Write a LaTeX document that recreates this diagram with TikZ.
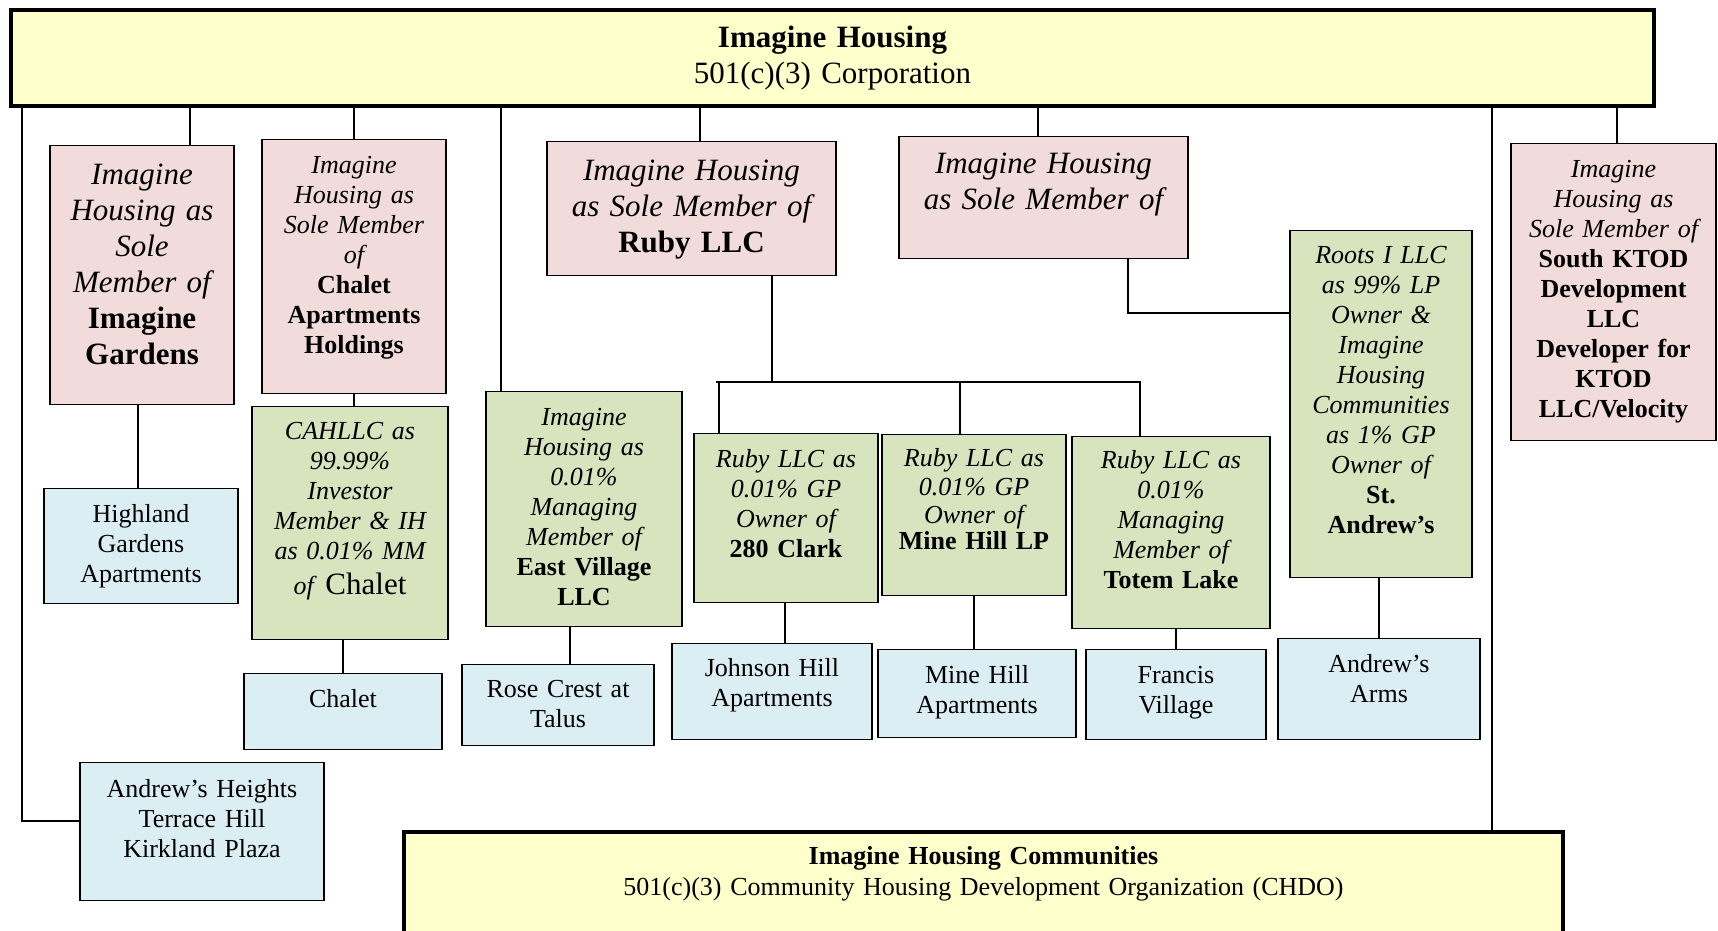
\documentclass[tikz,border=0pt]{standalone}
\usepackage{fontspec}
\setmainfont{Liberation Serif}
\definecolor{corpfill}{HTML}{FFFFCC}
\definecolor{pinkfill}{HTML}{F2DCDB}
\definecolor{greenfill}{HTML}{D7E4BD}
\definecolor{bluefill}{HTML}{DBEEF4}
\tikzset{
  orgbox/.style={draw, line width=1.3pt, anchor=north, inner sep=0pt, align=center,
    font=\fontsize{26}{30}\selectfont},
  pinkbox/.style={orgbox, fill=pinkfill},
  greenbox/.style={orgbox, fill=greenfill},
  bluebox/.style={orgbox, fill=bluefill},
  corpbox/.style={orgbox, fill=corpfill, line width=4.5pt},
  big/.style={font=\fontsize{31}{36}\selectfont},
  link/.style={line width=1.2pt}
}
\begin{document}
\begin{tikzpicture}[x=1pt,y=-1pt]
      \clip (0,0) rectangle (1718,931);
      \node[corpbox, big, text width=1643pt, text height=37pt, text depth=59pt] (ih) at (832.5,8)
        {\textbf{Imagine Housing}\\ 501(c)(3) Corporation};
      \node[pinkbox, big, text width=184pt, text height=39pt, text depth=220pt] (gardens) at (142,145)
        {{\itshape Imagine\\ Housing as\\ Sole\\ Member of}\\ {\bfseries Imagine\\ Gardens}};
      \node[pinkbox, text width=184pt, text height=34pt, text depth=220pt] (chaletsm) at (354,139)
        {{\itshape Imagine\\ Housing as\\ Sole Member\\ of}\\ {\bfseries Chalet\\ Apartments\\ Holdings}};
      \node[greenbox, text width=196pt, text height=33pt, text depth=200pt] (cahllc) at (350,406)
        {{\itshape CAHLLC as\\ 99.99\%\\ Investor\\ Member \& IH\\ as 0.01\% MM}\\[5pt] \textit{of} {\fontsize{31}{36}\selectfont Chalet}};
      \node[bluebox, text width=198pt, text height=34pt, text depth=42pt] (chalet) at (343,673) {Chalet};
      \node[bluebox, text width=194pt, text height=34pt, text depth=81pt] (highland) at (141,488)
        {Highland\\ Gardens\\ Apartments};
      \node[bluebox, text width=244pt, text height=35pt, text depth=103pt] (heights) at (202,762)
        {Andrew’s Heights\\ Terrace Hill\\ Kirkland Plaza};
      \node[greenbox, text width=196pt, text height=34pt, text depth=201pt] (eastvillage) at (584,391)
        {{\itshape Imagine\\ Housing as\\ 0.01\%\\ Managing\\ Member of}\\ {\bfseries East Village\\ LLC}};
      \node[bluebox, text width=192pt, text height=33pt, text depth=48pt] (rosecrest) at (558,664)
        {Rose Crest at\\ Talus};
      \node[pinkbox, big, text width=289pt, text height=39pt, text depth=95pt] (ruby) at (691.5,141)
        {{\itshape Imagine Housing\\ as Sole Member of}\\ \textbf{Ruby LLC}};
      \node[greenbox, text width=184pt, text height=34pt, text depth=135pt] (clark) at (786,433)
        {{\itshape Ruby LLC as\\ 0.01\% GP\\ Owner of}\\ \textbf{280 Clark}};
      \node[bluebox, text width=200pt, text height=33pt, text depth=63pt] (johnson) at (772,643)
        {Johnson Hill\\ Apartments};
      \node[greenbox, font=\fontsize{26}{28.5}\selectfont, text width=184pt, text height=32pt, text depth=129pt] (minehilllp) at (974,434)
        {{\itshape Ruby LLC as\\ 0.01\% GP\\ Owner of}\\[-3pt] \textbf{Mine Hill LP}};
      \node[bluebox, text width=198pt, text height=34pt, text depth=54pt] (minehill) at (977,649)
        {Mine Hill\\ Apartments};
      \node[greenbox, text width=198pt, text height=32pt, text depth=160pt] (totem) at (1171,436)
        {{\itshape Ruby LLC as\\ 0.01\%\\ Managing\\ Member of}\\ \textbf{Totem Lake}};
      \node[bluebox, text width=180pt, text height=34pt, text depth=56pt] (francis) at (1176,649)
        {Francis\\ Village};
      \node[pinkbox, big, text width=289pt, text height=37pt, text depth=85pt] (solemember) at (1043.5,136)
        {\itshape Imagine Housing\\ as Sole Member of};
      \node[greenbox, text width=182pt, text height=33pt, text depth=314pt] (roots) at (1381,230)
        {{\itshape Roots I LLC\\ as 99\% LP\\ Owner \&\\ Imagine\\ Housing\\ Communities\\ as 1\% GP\\ Owner of}\\ {\bfseries St.\\ Andrew’s}};
      \node[bluebox, text width=202pt, text height=34pt, text depth=67pt] (arms) at (1379,638)
        {Andrew’s\\ Arms};
      \node[pinkbox, text width=205pt, text height=34pt, text depth=263pt] (ktod) at (1613.5,143)
        {{\itshape Imagine\\ Housing as\\ Sole Member of}\\ {\bfseries South KTOD\\ Development\\ LLC\\ Developer for\\ KTOD\\ LLC/Velocity}};
      \node[corpbox, font=\fontsize{26}{31}\selectfont, text width=1159pt, text height=32.5pt, text depth=168pt] (ihc) at (983.5,829.5)
        {\textbf{Imagine Housing Communities}\\ 501(c)(3) Community Housing Development Organization (CHDO)};
      \coordinate (leftbend) at (22,821);
      \coordinate (bus) at (772,382);
      \coordinate (rootsbend) at (1128,313);
      \begin{scope}[link]
        \draw (ih.south -| leftbend) -- (leftbend) -- (heights.west |- leftbend);
        \draw (ih.south -| 190,0) -- (gardens.north -| 190,0);
        \draw (ih.south -| chaletsm.north) -- (chaletsm.north);
        \draw (chaletsm.south) -- (cahllc.north -| chaletsm.south);
        \draw (gardens.south -| 138,0) -- (highland.north -| 138,0);
        \draw (chalet.north) -- (chalet.north |- cahllc.south);
        \draw (ih.south -| 501,0) -- (eastvillage.north -| 501,0);
        \draw (eastvillage.south -| 570,0) -- (rosecrest.north -| 570,0);
        \draw (ih.south -| 700,0) -- (ruby.north -| 700,0);
        \draw (ruby.south -| bus) -- (bus);
        \draw (bus -| 716,0) -- (bus -| 1141,0);
        \draw (bus -| 719,0) -- (clark.north -| 719,0);
        \draw (bus -| 960,0) -- (minehilllp.north -| 960,0);
        \draw (bus -| 1140,0) -- (totem.north -| 1140,0);
        \draw (clark.south -| 785,0) -- (johnson.north -| 785,0);
        \draw (minehilllp.south) -- (minehill.north -| minehilllp.south);
        \draw (totem.south -| francis.north) -- (francis.north);
        \draw (ih.south -| 1038,0) -- (solemember.north -| 1038,0);
        \draw (solemember.south -| rootsbend) -- (rootsbend) -- (roots.west |- rootsbend);
        \draw (roots.south -| arms.north) -- (arms.north);
        \draw (ih.south -| 1492,0) -- (ihc.north -| 1492,0);
        \draw (ih.south -| 1617,0) -- (ktod.north -| 1617,0);
      \end{scope}
    \end{tikzpicture}
\end{document}
